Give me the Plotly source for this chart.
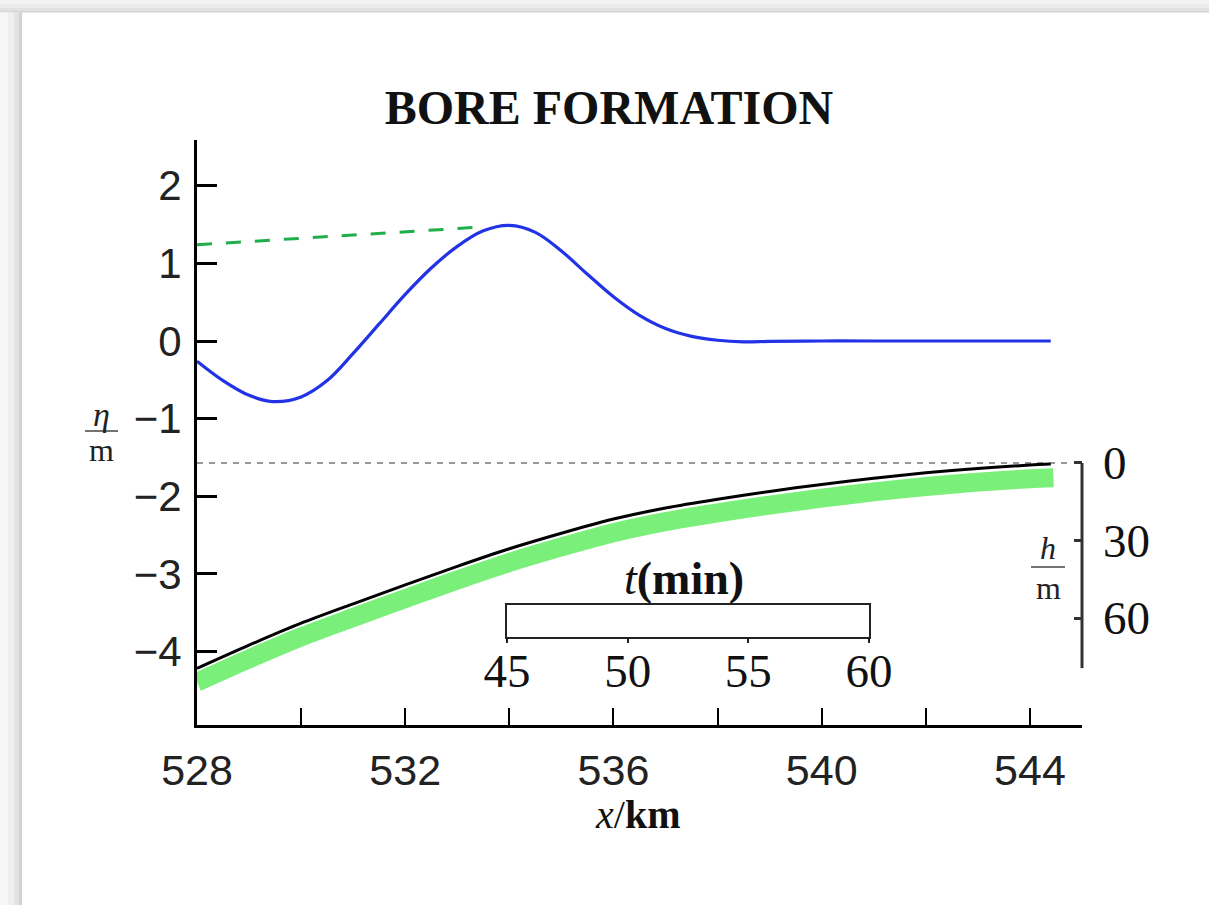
import plotly.graph_objects as go

# ---------------- data ----------------
x_eta = [528.0, 528.5, 529.0, 529.45, 530.0, 530.5, 531.0, 531.5, 532.0, 532.5,
         533.0, 533.5, 534.0, 534.5, 535.0, 535.5, 536.0, 536.5, 537.0, 537.5,
         538.0, 538.5, 539.0, 540.0, 541.0, 542.0, 543.0, 544.0, 544.4]
eta = [-0.26, -0.51, -0.70, -0.78, -0.72, -0.51, -0.16, 0.22, 0.60, 0.94,
       1.22, 1.42, 1.49, 1.40, 1.16, 0.86, 0.57, 0.33, 0.16, 0.06,
       0.01, -0.01, -0.005, 0.0, 0.0, 0.0, 0.0, 0.0, 0.0]

x_crest = [528.0, 533.38]
eta_crest = [1.24, 1.465]

x_bed = [528, 529, 530, 531, 532, 533, 534, 535, 536, 537, 538, 539, 540,
         541, 542, 543, 544, 544.4]
h_bed = [79.5, 70.5, 62.0, 54.5, 47.2, 40.0, 33.2, 27.2, 21.7, 17.4, 14.0,
         11.0, 8.3, 5.9, 3.8, 2.1, 0.8, 0.4]

x_band = [528, 529, 530, 531, 532, 533, 534, 535, 536, 537, 538, 539, 540,
          541, 542, 543, 544, 544.45]
h_band = [84.8, 75.8, 67.3, 59.8, 52.5, 45.3, 38.5, 32.5, 27.0, 22.7, 19.3,
          16.3, 13.6, 11.2, 9.1, 7.4, 6.1, 5.7]

x_still = [528.0, 544.73]
h_still = [0, 0]

x_tickvals = [528, 530, 532, 534, 536, 538, 540, 542, 544]
x_ticktext = ["528", "", "532", "", "536", "", "540", "", "544"]
eta_tickvals = [-4, -3, -2, -1, 0, 1, 2]
eta_ticktext = ["\u22124", "\u22123", "\u22122", "\u22121", "0", "1", "2"]
h_tickvals = [0, 30, 60]
h_ticktext = ["0", "30", "60"]
h_axis_span = [0, 79.4]
t_tickvals = [45, 50, 55, 60]
t_ticktext = ["45", "50", "55", "60"]
t_range = [45, 60]

# ---------------- layout helpers ----------------
W, H = 1209, 905
L, R, T, B = 197, 1082, 140, 725


def px2x(px):
    return (px - L) / (R - L)


def px2y(py):
    return (B - py) / (B - T)


SANS = "Liberation Sans, Arial, sans-serif"
SERIF = "Liberation Serif, Times New Roman, serif"

fig = go.Figure()

fig.add_trace(go.Scatter(x=x_band, y=h_band, yaxis="y2", mode="lines",
                         line=dict(color="#7af07a", width=19, shape="spline", smoothing=0.8),
                         hoverinfo="skip", showlegend=False))
fig.add_trace(go.Scatter(x=x_still, y=h_still, yaxis="y2", mode="lines",
                         line=dict(color="#777777", width=1.6, dash="6px,6px"),
                         hoverinfo="skip", showlegend=False))
fig.add_trace(go.Scatter(x=x_bed, y=h_bed, yaxis="y2", mode="lines",
                         line=dict(color="black", width=3, shape="spline", smoothing=0.8),
                         showlegend=False))
fig.add_trace(go.Scatter(x=x_crest, y=eta_crest, mode="lines",
                         line=dict(color="#1fae4a", width=3, dash="15px,14px"),
                         showlegend=False))
fig.add_trace(go.Scatter(x=x_eta, y=eta, mode="lines",
                         line=dict(color="#2233e6", width=3.2, shape="spline", smoothing=1.0),
                         showlegend=False))
# inset time axis (empty trace to activate it)
fig.add_trace(go.Scatter(x=t_range, y=[0, 1], xaxis="x2", yaxis="y3", mode="lines",
                         line=dict(width=0), hoverinfo="skip", showlegend=False))

shapes = []
# page frame / shadow
bands_top = [(0, 4, "#f3f3f3"), (4, 8, "#ebebeb"), (8, 11, "#e1e1e1"), (11, 12.5, "#d4d4d4")]
for y0, y1, c in bands_top:
    shapes.append(dict(type="rect", xref="paper", yref="paper",
                       x0=px2x(0), x1=px2x(W), y0=px2y(y1), y1=px2y(y0),
                       fillcolor=c, line=dict(width=0), layer="below"))
bands_left = [(0, 8, "#f7f7f7"), (8, 14, "#efefef"), (14, 19, "#e3e3e3"), (19, 22, "#d2d2d2")]
for x0, x1, c in bands_left:
    shapes.append(dict(type="rect", xref="paper", yref="paper",
                       x0=px2x(x0), x1=px2x(x1), y0=px2y(H), y1=px2y(12.5),
                       fillcolor=c, line=dict(width=0), layer="below"))
# right h-axis line
shapes.append(dict(type="line", xref="paper", yref="y2", x0=1.0, x1=1.0,
                   y0=h_axis_span[0], y1=h_axis_span[1],
                   line=dict(color="#333333", width=3)))
# fraction bars
shapes.append(dict(type="line", xref="paper", yref="paper", x0=px2x(85), x1=px2x(118),
                   y0=px2y(431), y1=px2y(431), line=dict(color="#444444", width=1.5)))
shapes.append(dict(type="line", xref="paper", yref="paper", x0=px2x(1031), x1=px2x(1065),
                   y0=px2y(567), y1=px2y(567), line=dict(color="#444444", width=1.5)))


def ann(text, px, py, size, color="#222"):
    return dict(text=text, x=px2x(px), y=px2y(py), xref="paper", yref="paper",
                xanchor="center", yanchor="middle", showarrow=False,
                font=dict(family=SERIF, size=size, color=color))


annotations = [
    ann("<i>\u03b7</i>", 101, 414, 34),
    ann("m", 101, 450, 32),
    ann("<i>h</i>", 1048, 548, 32),
    ann("m", 1048, 588, 32),
    ann("<i>t</i><b>(min)</b>", 684, 578, 46, "#111"),
    ann("<i>x</i>/<b>km</b>", 637, 815, 40, "#111"),
]

fig.update_layout(
    width=W, height=H, autosize=False,
    margin=dict(l=L, r=W - R, t=T, b=H - B, pad=0),
    paper_bgcolor="white", plot_bgcolor="rgba(0,0,0,0)",
    title=dict(text="<b>BORE FORMATION</b>", xref="container", yref="container",
               x=609 / W, y=1 - 107 / H, xanchor="center", yanchor="middle",
               font=dict(family=SERIF, size=48, color="#111")),
    xaxis=dict(range=[528, 545], tickvals=x_tickvals, ticktext=x_ticktext,
               ticks="inside", ticklen=17, tickwidth=2, tickcolor="black",
               showline=True, linewidth=3, linecolor="black",
               showgrid=False, zeroline=False, ticklabelstandoff=5,
               tickfont=dict(family=SANS, size=43, color="#222")),
    yaxis=dict(range=[-4.948, 2.590], tickvals=eta_tickvals, ticktext=eta_ticktext,
               ticks="inside", ticklen=20, tickwidth=3, tickcolor="black",
               showline=True, linewidth=3, linecolor="black",
               showgrid=False, zeroline=False, ticklabelstandoff=4,
               tickfont=dict(family=SANS, size=42, color="#222")),
    yaxis2=dict(overlaying="y", side="right", anchor="free", position=1.0,
                range=[101.4, -125.0], tickvals=h_tickvals, ticktext=h_ticktext,
                ticks="inside", ticklen=8, tickwidth=3, tickcolor="#333333",
                showline=False, showgrid=False, zeroline=False, ticklabelstandoff=20,
                tickfont=dict(family=SERIF, size=47, color="#111")),
    xaxis2=dict(domain=[px2x(507), px2x(869)], anchor="y3", range=t_range,
                tickvals=t_tickvals, ticktext=t_ticktext,
                ticks="outside", ticklen=4, tickwidth=2, tickcolor="#222",
                showline=True, mirror=True, linewidth=2, linecolor="#222",
                showgrid=False, zeroline=False, ticklabelstandoff=-12,
                tickfont=dict(family=SERIF, size=47, color="#111")),
    yaxis3=dict(domain=[px2y(637), px2y(605)], anchor="x2", range=[0, 1],
                showticklabels=False, ticks="", showline=True, mirror=True,
                linewidth=2, linecolor="#222", showgrid=False, zeroline=False),
    shapes=shapes, annotations=annotations,
)

fig.write_html("out.html")
